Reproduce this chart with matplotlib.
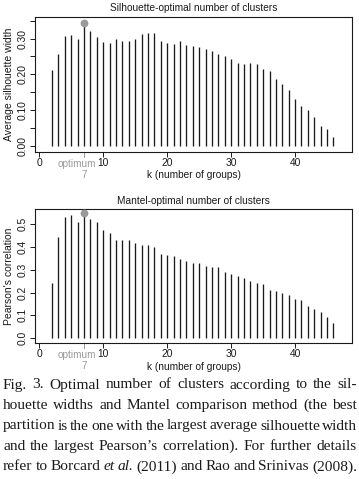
import matplotlib
matplotlib.use('Agg')
import matplotlib.pyplot as plt
from matplotlib.ticker import FixedLocator, FixedFormatter

plt.rcParams['font.family'] = ['Liberation Sans', 'DejaVu Sans']

# ---------------- data ----------------
k = list(range(2, 47))
silhouette = [0.211, 0.256, 0.307, 0.310, 0.299, 0.344, 0.321, 0.304, 0.290, 0.287,
              0.298, 0.293, 0.293, 0.298, 0.313, 0.315, 0.315, 0.292, 0.288, 0.284,
              0.292, 0.281, 0.278, 0.275, 0.272, 0.264, 0.258, 0.252, 0.242, 0.231,
              0.228, 0.231, 0.228, 0.214, 0.209, 0.186, 0.173, 0.156, 0.130, 0.111,
              0.100, 0.080, 0.055, 0.047, 0.024]
mantel = [0.243, 0.445, 0.532, 0.542, 0.512, 0.548, 0.524, 0.512, 0.473, 0.461,
          0.429, 0.429, 0.429, 0.419, 0.411, 0.411, 0.400, 0.371, 0.364, 0.361,
          0.349, 0.339, 0.330, 0.329, 0.317, 0.311, 0.311, 0.291, 0.282, 0.273,
          0.264, 0.251, 0.242, 0.238, 0.211, 0.207, 0.198, 0.191, 0.172, 0.165,
          0.142, 0.128, 0.114, 0.092, 0.067]
k_best_sil = 7
k_best_mantel = 7

x_ticks = [0, 10, 20, 30, 40]
sil_ticks = [0.00, 0.05, 0.10, 0.15, 0.20, 0.25, 0.30, 0.35]
sil_labels = ['0.00', '', '0.10', '', '0.20', '', '0.30', '']
man_ticks = [0.0, 0.1, 0.2, 0.3, 0.4, 0.5]
man_labels = ['0.0', '0.1', '0.2', '0.3', '0.4', '0.5']

titles = ['Silhouette-optimal number of clusters', 'Mantel-optimal number of clusters']
ylabels = ['Average silhouette width', "Pearson's correlation"]
xlabel = 'k (number of groups)'

caption = [
    [('Fig.', 'normal'), ('3.', 'normal'), ('Optimal', 'normal'), ('number', 'normal'), ('of', 'normal'),
     ('clusters', 'normal'), ('according', 'normal'), ('to', 'normal'), ('the', 'normal'), ('sil-', 'normal')],
    [('houette', 'normal'), ('widths', 'normal'), ('and', 'normal'), ('Mantel', 'normal'),
     ('comparison', 'normal'), ('method', 'normal'), ('(the', 'normal'), ('best', 'normal')],
    [('partition', 'normal'), ('is', 'normal'), ('the', 'normal'), ('one', 'normal'), ('with', 'normal'),
     ('the', 'normal'), ('largest', 'normal'), ('average', 'normal'), ('silhouette', 'normal'), ('width', 'normal')],
    [('and', 'normal'), ('the', 'normal'), ('largest', 'normal'), ('Pearson\u2019s', 'normal'),
     ('correlation).', 'normal'), ('For', 'normal'), ('further', 'normal'), ('details', 'normal')],
    [('refer', 'normal'), ('to', 'normal'), ('Borcard', 'normal'), ('et', 'italic'), ('al.', 'italic'),
     ('(2011)', 'normal'), ('and', 'normal'), ('Rao', 'normal'), ('and', 'normal'),
     ('Srinivas', 'normal'), ('(2008).', 'normal')],
]

# ---------------- layout ----------------
W, H = 359, 479
fig = plt.figure(figsize=(W / 100, H / 100), dpi=100)
fig.patch.set_facecolor('white')


def px_axes(left, top, right, bottom):
    return fig.add_axes([left / W, 1 - bottom / H, (right - left) / W, (bottom - top) / H])


INK = '#1a1a1a'
GREY = '#9a9a9a'


def draw_panel(ax, values, kbest, ylim, yt, ylab_list, title, ylabel, title_y, xlab_y):
    ax.vlines(k, 0, values, colors=INK, linewidth=0.95)
    ax.plot([kbest], [values[k.index(kbest)]], 'o', color=GREY, markersize=4.6, zorder=3)
    ax.set_xlim(-0.67, 48.9)
    ax.set_ylim(*ylim)
    ax.xaxis.set_major_locator(FixedLocator(x_ticks))
    ax.xaxis.set_major_formatter(FixedFormatter([str(v) for v in x_ticks]))
    ax.yaxis.set_major_locator(FixedLocator(yt))
    ax.yaxis.set_major_formatter(FixedFormatter(ylab_list))
    ax.tick_params(axis='both', direction='out', length=3.4, width=0.7, colors=INK,
                   labelsize=7.4, labelcolor=INK)
    ax.tick_params(axis='x', pad=1.2)
    ax.tick_params(axis='y', pad=1.8)
    for lab in ax.get_yticklabels():
        lab.set_rotation(90)
        lab.set_va('center')
    for s in ax.spines.values():
        s.set_linewidth(0.8)
        s.set_color(INK)
    # grey optimum tick + label
    ax.plot([kbest, kbest], [0, -0.035], transform=ax.get_xaxis_transform(), color=GREY,
            linewidth=0.7, clip_on=False)
    ax.annotate('optimum', xy=(kbest, 0), xycoords=('data', 'axes fraction'),
                xytext=(-5.2, -8.6), textcoords='offset points', ha='center', va='center',
                fontsize=7.2, color=GREY)
    ax.annotate(str(kbest), xy=(kbest, 0), xycoords=('data', 'axes fraction'),
                xytext=(0, -16.6), textcoords='offset points', ha='center', va='center',
                fontsize=7.2, color=GREY)
    ax.set_ylabel(ylabel, fontsize=7.5, color=INK, labelpad=2.5)
    cx = (ax.get_position().x0 + ax.get_position().x1) / 2
    fig.text(cx, 1 - title_y / H, title, ha='center', va='center', fontsize=7.3, color=INK)
    fig.text(cx, 1 - xlab_y / H, xlabel, ha='center', va='center', fontsize=7.3, color=INK)


ax1 = px_axes(35, 17, 352, 152)
draw_panel(ax1, silhouette, k_best_sil, (-0.0176, 0.3603), sil_ticks, sil_labels,
           titles[0], ylabels[0], 8.3, 175.5)

ax2 = px_axes(35, 209.3, 352, 343)
draw_panel(ax2, mantel, k_best_mantel, (-0.022, 0.566), man_ticks, man_labels,
           titles[1], ylabels[1], 201, 366.5)

# ---------------- caption (justified) ----------------
renderer = fig.canvas.get_renderer()
line_y = [385, 405.5, 426, 446.5, 467]
X0, X1 = 3, 357
for segs, yy in zip(caption, line_y):
    texts, widths = [], []
    for word, st in segs:
        t = fig.text(0, 1 - yy / H, word, fontsize=11.1, family=['Liberation Serif', 'DejaVu Serif'],
                     style=st, ha='left', va='center', color=INK)
        widths.append(t.get_window_extent(renderer).width)
        texts.append(t)
    gap = (X1 - X0 - sum(widths)) / (len(texts) - 1)
    x = X0
    for t, w in zip(texts, widths):
        t.set_x(x / W)
        x += w + gap

fig.savefig('out.png', dpi=100, facecolor='white')
